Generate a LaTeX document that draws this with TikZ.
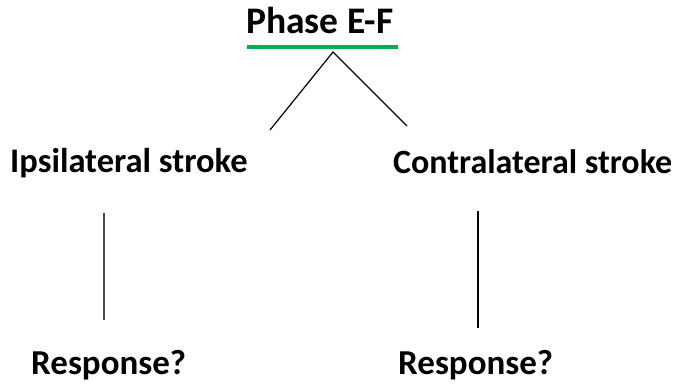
\documentclass[tikz,border=0pt]{standalone}
\usepackage{fontspec}
\setmainfont{Carlito}
\definecolor{ulgreen}{RGB}{0,176,80}
\definecolor{vgray}{RGB}{70,70,70}
\begin{document}
\begin{tikzpicture}[x=1pt,y=1pt,
  lbl/.style={inner sep=0pt,anchor=base west,font=\bfseries},
  conn/.style={line width=1.2pt,black}]
\useasboundingbox (0,0) rectangle (681,384);
\node[lbl,font=\bfseries\fontsize{37.5}{40}\selectfont] (title) at (246,350) {Phase E-F};
\draw[ulgreen,line width=4pt] (247,337) coordinate (ua) -- (398,337) coordinate (ub);
\coordinate (apex) at (333,332);
\coordinate (lend) at (270,254);
\coordinate (rend) at (407,258);
\draw[conn] (lend) -- (apex) -- (rend);
\node[lbl,font=\bfseries\fontsize{34.5}{36}\selectfont] (ipsi) at (10,212) {Ipsilateral stroke};
\node[lbl,font=\bfseries\fontsize{34}{36}\selectfont] (contra) at (393,211) {Contralateral stroke};
\coordinate (l1) at (104,171);
\coordinate (l2) at (104,64);
\coordinate (r1) at (478,173);
\coordinate (r2) at (478,56);
\draw[line width=2pt,vgray] (l1) -- (l2);
\draw[conn] (r1) -- (r2);
\node[lbl,font=\bfseries\fontsize{35}{37}\selectfont] (resp1) at (31,10) {Response?};
\node[lbl,font=\bfseries\fontsize{35}{37}\selectfont] (resp2) at (398,10) {Response?};
\end{tikzpicture}
\end{document}
